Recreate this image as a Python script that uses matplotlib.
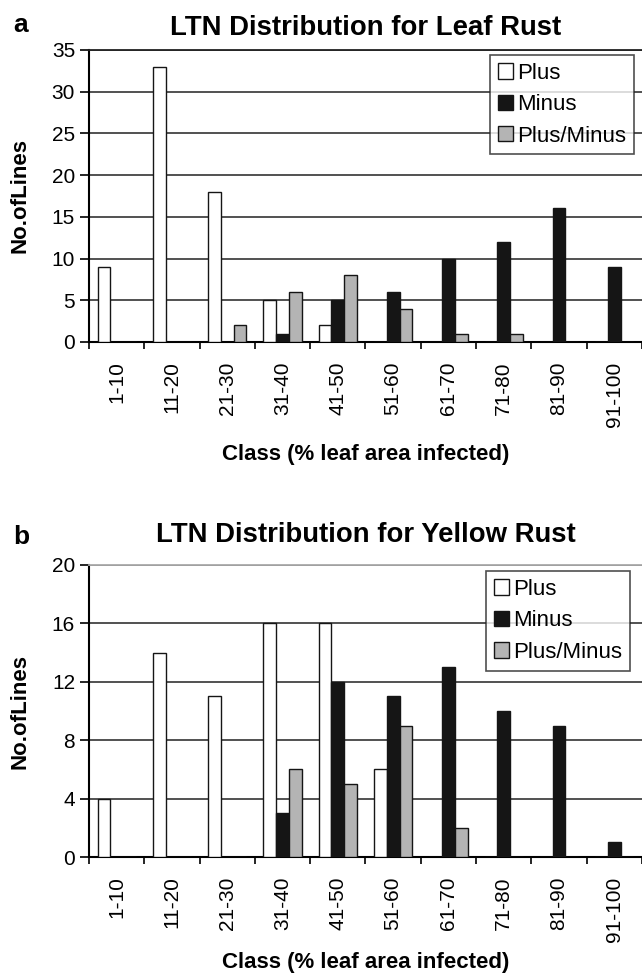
import numpy as np
import matplotlib
matplotlib.use("Agg")
import matplotlib.pyplot as plt

plt.rcParams["font.family"] = ["Liberation Sans", "DejaVu Sans"]

# Data.
classes = ["1-10", "11-20", "21-30", "31-40", "41-50", "51-60", "61-70",
    "71-80", "81-90", "91-100"]
series_names = ["Plus", "Minus", "Plus/Minus"]

leaf_plus = [9, 33, 18, 5, 2, 0, 0, 0, 0, 0]
leaf_minus = [0, 0, 0, 1, 5, 6, 10, 12, 16, 9]
leaf_plus_minus = [0, 0, 2, 6, 8, 4, 1, 1, 0, 0]

yellow_plus = [4, 14, 11, 16, 16, 6, 0, 0, 0, 0]
yellow_minus = [0, 0, 0, 3, 12, 11, 13, 10, 9, 1]
yellow_plus_minus = [0, 0, 0, 6, 5, 9, 2, 0, 0, 0]

colors = ["white", "#151515", "#b4b4b4"]


def draw_panel(ax, series, title, letter, ymax, ystep, legend_box,
    title_pad, letter_y, xlabel_y, top_color):
    x = np.arange(len(classes))
    width = 0.23
    for i, (values, name) in enumerate(zip(series, series_names)):
        ax.bar(x + (i - 1) * width, values, width, color=colors[i],
            edgecolor="#151515", linewidth=1.0, label=name, zorder=3)

    ax.set_xlim(-0.5, len(classes) - 0.5)
    ax.set_ylim(0, ymax)
    ax.set_yticks(np.arange(0, ymax + 1, ystep))
    ax.yaxis.grid(True, color="#222222", linewidth=1.1, zorder=0)
    ax.set_axisbelow(True)

    # Category labels centred, ticks at category boundaries.
    ax.set_xticks(x)
    ax.set_xticklabels(classes, rotation=90, fontsize=15)
    ax.tick_params(axis="x", length=0, pad=14)
    ax.set_xticks(np.arange(-0.5, len(classes)), minor=True)
    ax.tick_params(axis="x", which="minor", length=5, width=1.2,
        direction="out")
    ax.tick_params(axis="y", labelsize=15, length=6.5, width=1.2, pad=3.5)

    ax.spines["right"].set_visible(False)
    ax.spines["top"].set_color(top_color)
    ax.spines["top"].set_linewidth(1.3)
    ax.spines["left"].set_linewidth(1.5)
    ax.spines["bottom"].set_linewidth(1.5)

    ax.set_title(title, fontsize=19.8, fontweight="bold", pad=title_pad)
    ax.set_ylabel("No.ofLines", fontsize=16, fontweight="bold")
    ax.yaxis.label.set_va("center")
    ax.yaxis.set_label_coords(-0.125, 0.5)
    ax.set_xlabel("Class (% leaf area infected)", fontsize=16,
        fontweight="bold")
    ax.xaxis.label.set_va("center")
    ax.xaxis.set_label_coords(0.5, xlabel_y)
    ax.text(-0.137, letter_y, letter, transform=ax.transAxes, fontsize=19,
        fontweight="bold", ha="left", va="baseline")

    leg = ax.legend(loc="upper right", bbox_to_anchor=legend_box,
        fontsize=16, frameon=True, fancybox=False, handlelength=0.68,
        handleheight=0.68, handletextpad=0.2, borderpad=0.35,
        labelspacing=0.47, borderaxespad=0)
    leg.get_frame().set_edgecolor("#222222")
    leg.get_frame().set_linewidth(1.2)


fig = plt.figure(figsize=(6.42, 9.77), dpi=100)
ax1 = fig.add_axes([0.1386, 0.6500, 0.8614, 0.2989])
ax2 = fig.add_axes([0.1386, 0.1228, 0.8614, 0.2989])

draw_panel(ax1, [leaf_plus, leaf_minus, leaf_plus_minus],
    "LTN Distribution for Leaf Rust", "a", 35, 5, (0.9855, 0.983),
    10.5, 1.062, -0.385, "#222222")
draw_panel(ax2, [yellow_plus, yellow_minus, yellow_plus_minus],
    "LTN Distribution for Yellow Rust", "b", 20, 4, (0.978, 0.979),
    16.5, 1.072, -0.36, "#aaaaaa")

fig.savefig("out.png", dpi=100)
